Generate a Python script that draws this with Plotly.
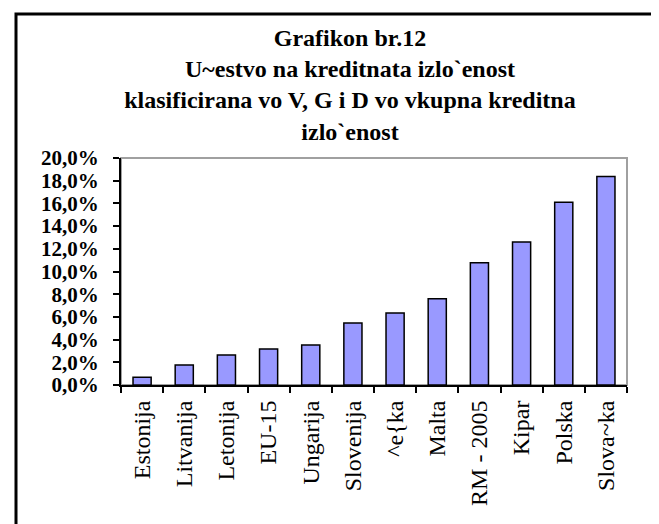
import plotly.graph_objects as go

# data
countries = ["Estonija", "Litvanija", "Letonija", "EU-15", "Ungarija", "Slovenija",
             "^e{ka", "Malta", "RM - 2005", "Kipar", "Polska", "Slova~ka"]
share = [0.0068, 0.0177, 0.0265, 0.0318, 0.0353, 0.0547,
         0.0635, 0.0759, 0.1077, 0.1260, 0.1610, 0.1836]
y_ticks = [0.00, 0.02, 0.04, 0.06, 0.08, 0.10, 0.12, 0.14, 0.16, 0.18, 0.20]

title_lines = ["Grafikon br.12",
               "U~estvo na kreditnata izlo`enost",
               "klasificirana vo V, G i D vo vkupna kreditna",
               "izlo`enost"]

W, H = 659, 524
L, R, T, B = 113, 40, 150, 147
pw, ph = W - L - R, H - T - B

fig = go.Figure()
fig.add_trace(go.Bar(
    x=countries, y=share,
    marker=dict(color="#9999ff", line=dict(color="black", width=1.5)),
))

# outer chart frame (only left and top edges are inside the picture)
fig.add_shape(type="rect", xref="paper", yref="paper",
              x0=(8 - L) / pw, x1=(760 - L) / pw,
              y0=-(600 - (H - B)) / ph, y1=1 + (T - 6) / ph,
              line=dict(color="black", width=3), layer="below")
# grey plot-area border
fig.add_shape(type="rect", xref="paper", yref="paper", x0=0, x1=1, y0=0, y1=1,
              line=dict(color="#a0a0a0", width=2), layer="below")

fig.update_layout(
    width=W, height=H,
    margin=dict(l=L, r=R, t=T, b=B),
    paper_bgcolor="white", plot_bgcolor="white",
    separators=",.",
    showlegend=False,
    bargap=0.57,
    title=dict(text="<br>".join(title_lines), x=(342 - L) / pw, xref="paper",
               xanchor="center", y=1 - 38 / H, yanchor="top",
               font=dict(family="Liberation Serif", size=24, color="black", weight="bold")),
)
fig.update_yaxes(range=[0, 0.2], tickvals=y_ticks, tickformat=".1%",
                 showgrid=False, zeroline=False,
                 showline=True, linecolor="black", linewidth=2,
                 ticks="outside", ticklen=6, tickwidth=2, tickcolor="black",
                 ticklabelstandoff=10,
                 tickfont=dict(family="Liberation Serif", size=21, color="black", weight="bold"))
fig.update_xaxes(showgrid=False, showline=True, linecolor="black", linewidth=2,
                 ticks="outside", ticklen=6, tickwidth=2, tickcolor="black",
                 tickson="boundaries", tickangle=-90, ticklabelstandoff=4,
                 tickfont=dict(family="Liberation Serif", size=24, color="black"))

fig.write_html("out.html")
